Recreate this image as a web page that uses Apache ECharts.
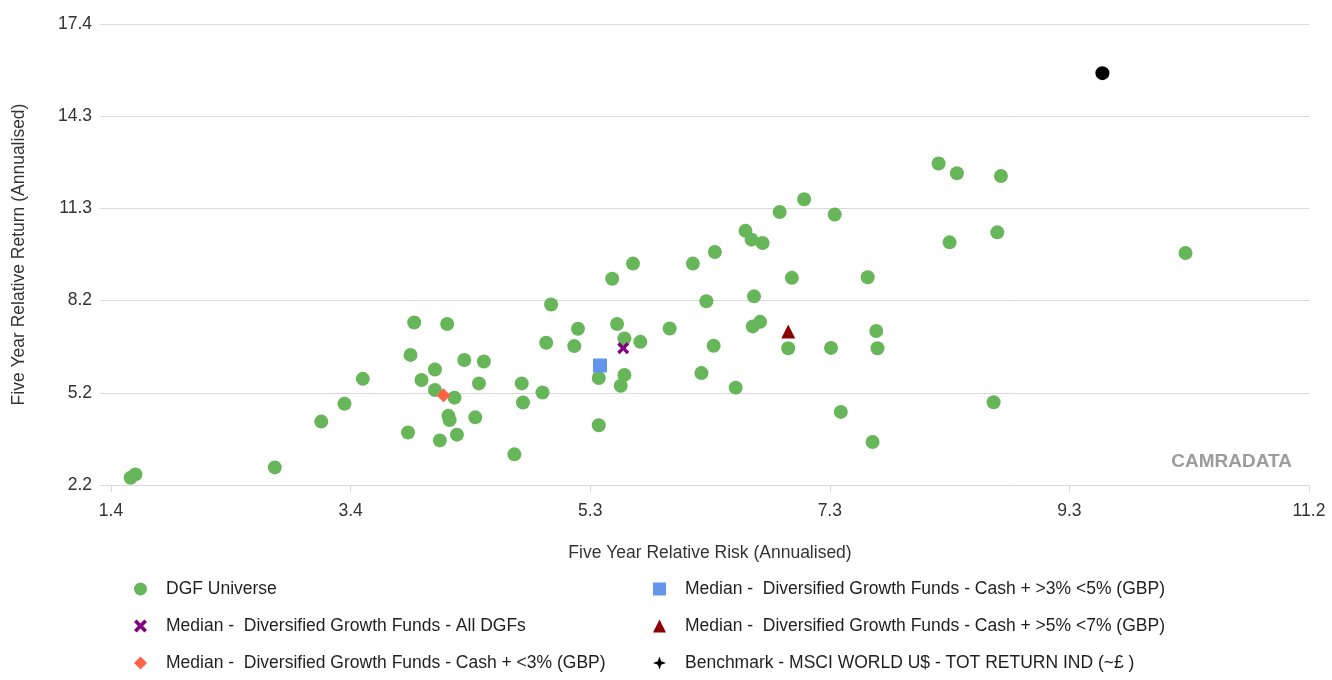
<!DOCTYPE html>
<html lang="en">
<head>
    <meta charset="UTF-8">
    <title>DGF risk / return</title>
    <script src="https://cdn.jsdelivr.net/npm/echarts@6/dist/echarts.min.js"></script>
    <style>
        html, body { margin: 0; padding: 0; background: #fff; }
    </style>
</head>
<body>
<div id="riskReturn" style="width: 1332px;height: 680px;"></div>
<script type="text/javascript">
    // axis ticks
    var xTickLabels = ['1.4', '3.4', '5.3', '7.3', '9.3', '11.2'];
    var yTickLabels = ['2.2', '5.2', '8.2', '11.3', '14.3', '17.4'];

    // DGF universe (risk, return)
    var dgfRisk = [1.56, 1.60, 2.74, 3.12, 3.31, 3.46, 5.67, 6.16, 5.50, 5.00,
        3.88, 4.15, 5.22, 5.54, 5.97, 5.60, 5.73, 4.96, 5.19, 3.85,
        4.29, 4.45, 4.05, 3.94, 4.41, 4.76, 5.39, 5.60, 4.05, 4.21,
        4.93, 5.57, 4.77, 4.16, 4.17, 4.38, 3.83, 4.23, 4.09, 5.39,
        4.70, 6.34, 6.97, 7.59, 6.27, 6.66, 6.71, 6.65, 7.66, 6.33,
        6.94, 7.29, 7.67, 6.23, 6.51, 7.37, 7.63, 8.62, 10.19, 8.17,
        8.32, 8.68, 8.26, 8.65, 7.07, 6.87, 7.32, 6.59, 6.64, 6.73];
    var dgfReturn = [2.44, 2.55, 2.78, 4.29, 4.88, 5.70, 9.50, 9.50, 9.00, 8.15,
        7.56, 7.51, 7.35, 7.51, 7.36, 7.03, 6.92, 6.89, 6.78, 6.49,
        6.32, 6.27, 6.01, 5.66, 5.55, 5.55, 5.73, 5.83, 5.33, 5.08,
        5.25, 5.47, 4.92, 4.48, 4.34, 4.43, 3.93, 3.86, 3.67, 4.17,
        3.21, 9.88, 9.03, 9.05, 8.26, 8.42, 7.58, 7.43, 7.28, 6.79,
        6.71, 6.72, 6.71, 5.89, 5.41, 4.61, 3.62, 4.93, 9.85, 12.80,
        12.48, 12.39, 10.20, 10.53, 11.62, 11.20, 11.12, 10.58, 10.29, 10.18];

    // medians and benchmark [risk, return]
    var medianAll = [5.59, 6.71];
    var medianCashLt3 = [4.12, 5.16];
    var medianCash3to5 = [5.40, 6.14];
    var medianCash5to7 = [6.94, 7.26];
    var benchmark = [9.51, 15.78];

    var seriesNames = [
        'DGF Universe',
        'Median -  Diversified Growth Funds - All DGFs',
        'Median -  Diversified Growth Funds - Cash + <3% (GBP)',
        'Median -  Diversified Growth Funds - Cash + >3% <5% (GBP)',
        'Median -  Diversified Growth Funds - Cash + >5% <7% (GBP)',
        'Benchmark - MSCI WORLD U$ - TOT RETURN IND (~\u00a3 )'
    ];

    var crossPath = 'path://M2,0 L5,3 L8,0 L10,2 L7,5 L10,8 L8,10 L5,7 L2,10 L0,8 L3,5 L0,2 Z';
    var starPath = 'path://M5,0 L6.3,3.7 L10,5 L6.3,6.3 L5,10 L3.7,6.3 L0,5 L3.7,3.7 Z';

    var fontFamily = '"Liberation Sans", Arial, sans-serif';
    var fontSize = 17.5;

    var dgfPoints = [];
    for (var i = 0; i < dgfRisk.length; i++) {
        dgfPoints.push([dgfRisk[i], dgfReturn[i]]);
    }

    var chart = echarts.init(document.getElementById('riskReturn'));

    var legendText = { fontSize: fontSize, lineHeight: 20, color: '#1f1f1f', padding: [0, 0, 0, 14], fontFamily: fontFamily };

    var option = {
        backgroundColor: '#ffffff',
        animation: false,
        textStyle: { fontFamily: fontFamily },
        grid: { left: 111, right: 23, top: 24, bottom: 195 },
        xAxis: {
            type: 'value',
            min: 1.4,
            max: 11.2,
            interval: 1.96,
            name: 'Five Year Relative Risk (Annualised)',
            nameLocation: 'middle',
            nameGap: 59,
            nameTextStyle: { fontSize: fontSize, color: '#333', fontFamily: fontFamily },
            axisLine: { show: true, lineStyle: { color: '#d9d9d9', width: 1 } },
            axisTick: { show: true, length: 7, lineStyle: { color: '#d9d9d9' } },
            splitLine: { show: false },
            axisLabel: {
                margin: 17,
                fontSize: fontSize,
                color: '#333',
                fontFamily: fontFamily,
                formatter: function (v) {
                    return xTickLabels[Math.round((v - 1.4) / 1.96)];
                }
            }
        },
        yAxis: {
            type: 'value',
            min: 2.2,
            max: 17.4,
            interval: 3.04,
            name: 'Five Year Relative Return (Annualised)',
            nameLocation: 'middle',
            nameGap: 83,
            nameTextStyle: { fontSize: fontSize, color: '#333', fontFamily: fontFamily },
            axisLine: { show: false },
            axisTick: { show: true, length: 11, lineStyle: { color: '#d9d9d9' } },
            splitLine: { show: true, lineStyle: { color: '#d9d9d9', width: 1 } },
            axisLabel: {
                margin: 19,
                fontSize: fontSize,
                color: '#333',
                fontFamily: fontFamily,
                formatter: function (v) {
                    return yTickLabels[Math.round((v - 2.2) / 3.04)];
                }
            }
        },
        legend: [{
            orient: 'vertical',
            left: 134,
            top: 579,
            height: 100,
            padding: 0,
            itemWidth: 13,
            itemHeight: 13,
            itemGap: 17,
            textStyle: legendText,
            data: [
                { name: seriesNames[0], icon: 'circle' },
                { name: seriesNames[1], icon: crossPath, itemStyle: { color: '#800080' } },
                { name: seriesNames[2], icon: 'diamond' }
            ]
        }, {
            orient: 'vertical',
            left: 653,
            top: 579,
            height: 100,
            padding: 0,
            itemWidth: 13,
            itemHeight: 13,
            itemGap: 17,
            textStyle: legendText,
            data: [
                { name: seriesNames[3], icon: 'rect' },
                { name: seriesNames[4], icon: 'triangle' },
                { name: seriesNames[5], icon: starPath }
            ]
        }],
        graphic: [{
            type: 'text',
            right: 40,
            top: 452,
            style: {
                text: 'CAMRADATA',
                fill: '#9c9c9c',
                font: 'bold 19px "Liberation Sans", sans-serif'
            }
        }],
        series: [{
            name: seriesNames[0],
            type: 'scatter',
            symbol: 'circle',
            symbolSize: 14,
            itemStyle: { color: '#67b75a', opacity: 1 },
            data: dgfPoints
        }, {
            name: seriesNames[1],
            type: 'scatter',
            symbol: crossPath,
            symbolSize: 12,
            itemStyle: { color: '#800080', opacity: 1 },
            data: [medianAll]
        }, {
            name: seriesNames[2],
            type: 'scatter',
            symbol: 'diamond',
            symbolSize: 14,
            itemStyle: { color: '#ff6347', opacity: 1 },
            data: [medianCashLt3]
        }, {
            name: seriesNames[3],
            type: 'scatter',
            symbol: 'rect',
            symbolSize: 14,
            itemStyle: { color: '#6495ed', opacity: 1 },
            data: [medianCash3to5]
        }, {
            name: seriesNames[4],
            type: 'scatter',
            symbol: 'triangle',
            symbolSize: 14,
            itemStyle: { color: '#8b0000', opacity: 1 },
            data: [medianCash5to7]
        }, {
            name: seriesNames[5],
            type: 'scatter',
            symbol: 'circle',
            symbolSize: 14,
            itemStyle: { color: '#000000', opacity: 1 },
            data: [benchmark]
        }]
    };

    chart.setOption(option);
</script>
</body>
</html>
